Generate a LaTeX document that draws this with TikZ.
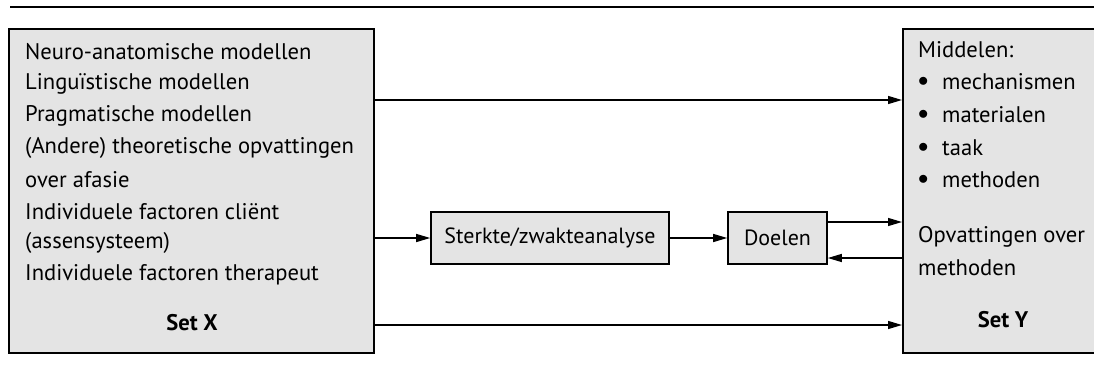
\documentclass[tikz,border=0pt]{standalone}
\usepackage{fontspec}
\setmainfont{PT Sans}
\usetikzlibrary{arrows.meta}
\definecolor{boxgray}{RGB}{228,228,228}
\tikzset{
  box/.style={draw=black, line width=1.6pt, fill=boxgray, rectangle, inner sep=0pt},
  arr/.style={line width=1.3pt, -{Triangle[length=14pt,width=8pt]}},
  txt/.style={anchor=west, inner sep=0pt, font=\fontsize{22.6}{26}\selectfont},
  bold/.style={inner sep=0pt, font=\fontsize{22.6}{26}\selectfont\bfseries}
}
\begin{document}
\begin{tikzpicture}[x=1pt,y=-1pt]
\useasboundingbox (0,0) rectangle (1094,367);
\draw[line width=1.3pt] (10,7) -- (1094,7);
% boxes
\node[box, anchor=north west, minimum width=365pt, minimum height=324pt] (X) at (8,28) {};
\node[box, anchor=north west, minimum width=196pt, minimum height=324pt] (Y) at (902,28) {};
\node[box, minimum width=238pt, minimum height=52pt, font=\fontsize{22}{26}\selectfont] (S) at (550,238) {Sterkte/zwakteanalyse};
\node[box, minimum width=99pt, minimum height=52pt, font=\fontsize{22}{26}\selectfont] (D) at (777.5,238) {Doelen};
% left texts
\node[txt] (x1) at (25,52) {Neuro-anatomische modellen};
\node[txt] (x2) at (25,84) {Linguïstische modellen};
\node[txt] (x3) at (25,116) {Pragmatische modellen};
\node[txt] (x4) at (25,148) {(Andere) theoretische opvattingen};
\node[txt] (x5) at (25,180) {over afasie};
\node[txt] (x6) at (25,212) {Individuele factoren cliënt};
\node[txt] (x7) at (25,243) {(assensysteem)};
\node[txt] (x8) at (25,275) {Individuele factoren therapeut};
\node[bold] (setx) at (192,323) {Set X};
% right texts
\node[txt] (y1) at (918,50) {Middelen:};
\foreach \t/\yy/\n in {mechanismen/82/2, materialen/115/3, taak/148/4, methoden/180/5}{
  \node[txt] (b\n) at (918,\yy) {$\bullet$};
  \node[txt] (y\n) at (942,\yy) {\t};
}
\node[txt] (y6) at (918,237) {Opvattingen over};
\node[txt] (y7) at (918,268) {methoden};
\node[bold] (sety) at (1003,320) {Set Y};
% connectors
\coordinate (xa) at (X.north east |- 0,100);
\coordinate (ya) at (Y.north west |- 0,100);
\coordinate (xb) at (X.north east |- S.west);
\coordinate (xc) at (X.north east |- 0,325);
\coordinate (yc) at (Y.north west |- 0,325);
\coordinate (d1) at (D.north east |- 0,222);
\coordinate (y1a) at (Y.north west |- 0,222);
\coordinate (d2) at (D.north east |- 0,258);
\coordinate (y2a) at (Y.north west |- 0,258);
\draw[arr] (xa) -- (ya);
\draw[arr] (xb) -- (S.west);
\draw[arr] (S.east) -- (D.west);
\draw[arr] (d1) -- (y1a);
\draw[arr] (y2a) -- (d2);
\draw[arr] (xc) -- (yc);
\end{tikzpicture}
\end{document}
